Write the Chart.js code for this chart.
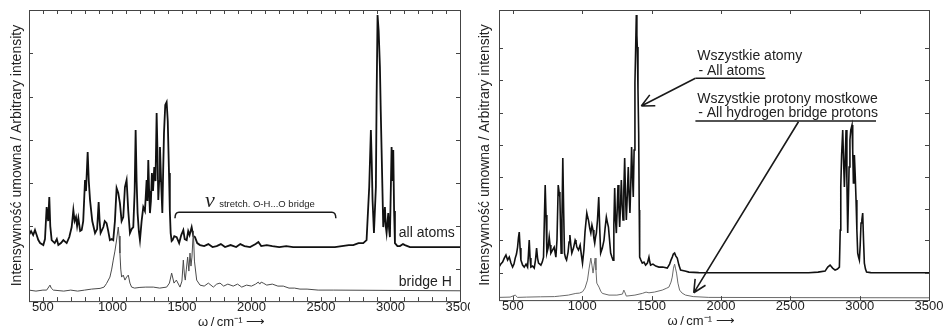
<!DOCTYPE html>
<html>
<head>
<meta charset="utf-8">
<script src="https://cdn.jsdelivr.net/npm/chart.js@4/dist/chart.umd.min.js"></script>
<style>
    body { margin: 0; background: #fff; overflow: hidden; }
    .panel { position: absolute; top: 0; }
    #left { left: 0; width: 470px; height: 331px; }
    #right { left: 476px; width: 470px; height: 330px; }
</style>
</head>
<body>
<div class="panel" id="left"><canvas id="chart-left" width="470" height="331"></canvas></div>
<div class="panel" id="right"><canvas id="chart-right" width="470" height="330"></canvas></div>
<script>
// x axis (wavenumber) labels
const xLabels = [500, 1000, 1500, 2000, 2500, 3000, 3500];

// y tick marks (arbitrary intensity, no labels)
const yTicksLeft = [31.7, 75, 118.3, 161, 204.3, 247.7];
const yTicksRight = [27.3, 60, 91.3, 123.3, 155, 187.3, 220, 251.7];

// left panel: all atoms
const leftAllAtoms = [
    [400, 66], [415, 70], [430, 66], [443, 71], [455, 66], [467, 61], [480, 58], [503, 56], [515, 62],
    [527, 94], [538, 80], [546, 104], [553, 75], [563, 61], [585, 58], [600, 62], [611, 56], [630, 58],
    [647, 61], [671, 58], [690, 64], [707, 74], [719, 91], [728, 80], [738, 84], [746, 75], [755, 83],
    [768, 70], [779, 71], [790, 80], [803, 121], [810, 110], [822, 149], [830, 120], [839, 101], [855, 80],
    [875, 68], [890, 72], [901, 99], [908, 80], [915, 68], [935, 74], [945, 80], [958, 78], [970, 70],
    [982, 61], [995, 62], [1006, 61], [1018, 80], [1030, 113], [1042, 108], [1054, 98], [1066, 80],
    [1078, 84], [1090, 114], [1102, 121], [1114, 90], [1126, 68], [1138, 72], [1150, 74], [1160, 110],
    [1167, 171], [1174, 120], [1181, 88], [1190, 70], [1198, 61], [1210, 80], [1222, 94], [1234, 90],
    [1246, 121], [1252, 100], [1258, 141], [1264, 110], [1270, 88], [1277, 100], [1284, 128], [1292, 110],
    [1301, 134], [1310, 120], [1318, 188], [1324, 150], [1330, 101], [1336, 120], [1342, 154], [1350, 120],
    [1359, 88], [1365, 130], [1371, 168], [1380, 196], [1390, 199], [1398, 180], [1407, 128], [1413, 90],
    [1419, 68], [1426, 60], [1433, 61], [1445, 65], [1462, 64], [1480, 58], [1495, 66], [1510, 71],
    [1520, 62], [1534, 61], [1545, 70], [1555, 66], [1570, 74], [1582, 65], [1594, 64], [1610, 58],
    [1630, 56], [1660, 55], [1690, 57], [1720, 54], [1750, 55], [1780, 57], [1810, 54], [1850, 56],
    [1890, 54], [1920, 57], [1950, 55], [1990, 54], [2030, 57], [2050, 59], [2070, 55], [2110, 56],
    [2150, 55], [2200, 54], [2250, 55], [2300, 54], [2400, 54], [2500, 54], [2600, 54], [2650, 55],
    [2700, 56], [2732, 56], [2770, 58], [2804, 58], [2828, 61], [2847, 114], [2859, 171], [2865, 140],
    [2871, 101], [2881, 68], [2895, 114], [2900, 200], [2907, 286], [2915, 270], [2924, 234], [2930, 190],
    [2936, 151], [2948, 74], [2960, 94], [2966, 75], [2972, 68], [2984, 88], [2990, 72], [2996, 64],
    [3008, 154], [3014, 120], [3020, 151], [3026, 90], [3032, 58], [3050, 55], [3068, 55], [3090, 57],
    [3104, 56], [3140, 54], [3500, 54]
];

// left panel: bridge H
const leftBridgeH = [
    [400, 11], [450, 10], [500, 11], [527, 11], [551, 16], [560, 13], [575, 11], [650, 10], [700, 11],
    [750, 10], [800, 11], [850, 12], [911, 12.7], [940, 14], [958, 17.7], [982, 24], [995, 32], [1006, 41],
    [1018, 50], [1030, 61], [1042, 74], [1048, 65], [1054, 48], [1060, 32], [1066, 24], [1078, 26],
    [1090, 21], [1102, 24], [1114, 26], [1126, 18], [1138, 14], [1160, 13], [1198, 13.7], [1240, 14],
    [1294, 14], [1340, 13], [1390, 14], [1410, 18], [1426, 28], [1443, 18], [1460, 21], [1486, 14],
    [1500, 20], [1510, 41], [1518, 26], [1524, 21], [1532, 32], [1541, 44], [1550, 30], [1558, 48],
    [1565, 35], [1572, 44], [1582, 70], [1590, 40], [1606, 21], [1630, 16], [1660, 15], [1690, 18],
    [1726, 14], [1750, 17], [1774, 18], [1800, 15], [1830, 17], [1869, 15], [1900, 17], [1930, 14],
    [1965, 16], [2000, 15], [2030, 17], [2049, 19], [2060, 17], [2070, 19], [2085, 18], [2110, 16],
    [2150, 17], [2190, 15], [2229, 15], [2270, 13], [2310, 13], [2349, 12], [2400, 12], [2480, 11],
    [2588, 11], [3500, 10.3]
];

// right panel: all atoms
const rightAllAtoms = [
    [400, 33], [413, 36], [426, 38], [438, 42], [450, 45], [462, 40], [474, 43], [486, 37], [498, 33],
    [508, 36], [517, 42], [526, 46], [534, 53], [540, 62], [546, 68], [552, 52], [558, 40], [570, 35],
    [582, 33], [595, 36], [606, 33], [612, 45], [618, 60], [624, 42], [630, 33], [642, 34], [654, 32],
    [663, 40], [671, 52], [678, 42], [685, 37], [694, 36], [702, 35], [712, 38], [721, 43], [727, 80],
    [733, 115], [739, 85], [745, 47], [754, 52], [762, 63], [768, 55], [774, 47], [786, 50], [798, 53],
    [804, 48], [810, 43], [818, 60], [827, 115], [833, 108], [839, 103], [844, 70], [848, 47], [854, 80],
    [860, 142], [866, 90], [872, 47], [880, 42], [887, 40], [898, 48], [905, 58], [911, 65], [918, 55],
    [925, 47], [937, 52], [949, 60], [955, 58], [961, 53], [973, 50], [985, 55], [994, 45], [1002, 37],
    [1012, 50], [1020, 68], [1033, 87], [1039, 83], [1045, 80], [1054, 72], [1062, 67], [1070, 75],
    [1078, 70], [1084, 62], [1090, 57], [1096, 63], [1102, 67], [1110, 80], [1119, 103], [1126, 72],
    [1133, 47], [1145, 52], [1157, 60], [1165, 72], [1174, 83], [1181, 78], [1189, 73], [1197, 60],
    [1205, 47], [1214, 43], [1222, 40], [1228, 75], [1234, 112], [1240, 80], [1246, 67], [1252, 90],
    [1258, 115], [1264, 92], [1270, 73], [1276, 95], [1282, 120], [1288, 95], [1294, 80], [1300, 110],
    [1306, 142], [1312, 105], [1318, 80], [1325, 105], [1332, 133], [1338, 105], [1344, 87], [1350, 115],
    [1356, 153], [1362, 125], [1368, 103], [1374, 150], [1380, 217], [1385, 250], [1390, 285], [1394, 265],
    [1397, 253], [1402, 210], [1407, 167], [1411, 90], [1414, 43], [1423, 40], [1433, 37], [1445, 38],
    [1457, 35], [1470, 37], [1481, 43], [1487, 38], [1493, 35], [1510, 36], [1530, 34], [1553, 33],
    [1580, 33], [1613, 32], [1630, 36], [1640, 40], [1649, 43], [1657, 46], [1666, 47], [1675, 44],
    [1685, 42], [1697, 35], [1709, 30], [1740, 29], [1769, 28], [1840, 27.5], [1913, 27.3], [2200, 27.3],
    [2500, 27.3], [2632, 27.3], [2700, 28], [2751, 29], [2770, 33], [2787, 35], [2805, 32], [2823, 30],
    [2840, 31], [2854, 33], [2860, 70], [2864, 113], [2870, 145], [2878, 170], [2884, 140], [2890, 113],
    [2896, 140], [2902, 170], [2908, 120], [2914, 67], [2919, 100], [2924, 133], [2930, 160], [2936, 170],
    [2945, 175], [2950, 150], [2955, 117], [2959, 130], [2962, 145], [2968, 125], [2974, 100], [2980, 70],
    [2986, 47], [2992, 43], [2998, 40], [3004, 55], [3010, 77], [3016, 80], [3022, 87], [3028, 60],
    [3034, 37], [3042, 31], [3050, 28], [3080, 27.5], [3111, 27.3], [3500, 27.3]
];

// right panel: hydrogen bridge protons
const rightBridge = [
    [400, 2.7], [480, 3], [517, 5], [534, 2.7], [600, 3], [700, 3.3], [800, 3.5], [834, 4], [900, 5],
    [954, 6.7], [980, 7], [1002, 8.3], [1020, 12], [1038, 20], [1050, 32], [1062, 42], [1070, 35],
    [1078, 27], [1086, 35], [1093, 42], [1099, 30], [1105, 17], [1121, 13], [1133, 9], [1145, 6.7],
    [1193, 5], [1250, 5], [1290, 6], [1300, 10], [1306, 8.3], [1318, 4], [1380, 5], [1433, 6.7],
    [1460, 8], [1481, 7.3], [1520, 8], [1577, 10], [1610, 12], [1625, 13], [1640, 18], [1649, 23],
    [1658, 32], [1666, 36], [1672, 32], [1680, 27], [1690, 17], [1702, 10], [1720, 7], [1745, 5],
    [1800, 3.5], [1913, 2.7], [2500, 2.5], [3500, 2.3]
];

// annotations, in data coordinates
const leftTexts = [
    { text: 'all atoms', x: 3060, y: 63.7, font: '14px "Liberation Sans"' },
    { text: 'bridge H', x: 3060, y: 15, font: '14px "Liberation Sans"' },
    { text: 'ν', x: 1665, y: 93.7, font: 'italic 22px "Liberation Serif"' },
    { text: 'stretch. O-H...O bridge', x: 1768, y: 94, font: '9.5px "Liberation Sans"' }
];
const leftBracket = { x1: 1450, x2: 2607, y: 88.7, yEnd: 82.7 };

const rightTexts = [
    { text: 'Wszystkie atomy', x: 1829, y: 240, font: '14px "Liberation Sans"' },
    { text: '- All atoms', x: 1838, y: 225, font: '14px "Liberation Sans"' },
    { text: 'Wszystkie protony mostkowe', x: 1829, y: 197.3, font: '14px "Liberation Sans"' },
    { text: '- All hydrogen bridge protons', x: 1836, y: 182.7, font: '14px "Liberation Sans"' }
];
const rightUnderlines = [
    { x1: 1816, x2: 2320, y: 221.7 },
    { x1: 1816, x2: 3118, y: 179 }
];
const rightArrows = [
    { x1: 1816, y1: 221.7, x2: 1426, y2: 194 },
    { x1: 2559, y1: 178.3, x2: 1804, y2: 7.3 }
];

const FONT = '"Liberation Sans", Arial, sans-serif';
const xTitle = 'ω\u2009/\u2009cm⁻¹ ⟶\u2003\u2003';
const yTitle = 'Intensywność umowna / Arbitrary intensity';

// frame with inward ticks on all four sides
const frameTicks = {
    id: 'frameTicks',
    afterDatasetsDraw(chart) {
        const { ctx, chartArea: a } = chart;
        const { x, y } = chart.scales;
        const len = 4;
        ctx.save();
        ctx.strokeStyle = '#444';
        ctx.lineWidth = 1;
        ctx.strokeRect(a.left + 0.5, a.top + 0.5, a.right - a.left, a.bottom - a.top);
        ctx.beginPath();
        x.ticks.forEach(t => {
            const px = Math.round(x.getPixelForValue(t.value)) + 0.5;
            ctx.moveTo(px, a.bottom); ctx.lineTo(px, a.bottom - len);
            ctx.moveTo(px, a.top); ctx.lineTo(px, a.top + len);
        });
        y.ticks.forEach(t => {
            const py = Math.round(y.getPixelForValue(t.value)) + 0.5;
            ctx.moveTo(a.left, py); ctx.lineTo(a.left + len, py);
            ctx.moveTo(a.right, py); ctx.lineTo(a.right - len, py);
        });
        ctx.stroke();
        ctx.restore();
    }
};

function notesPlugin(texts, underlines, arrows, bracket) {
    return {
        id: 'notes',
        afterDatasetsDraw(chart) {
            const ctx = chart.ctx;
            const { x, y } = chart.scales;
            ctx.save();
            ctx.fillStyle = '#222';
            ctx.strokeStyle = '#1a1a1a';
            ctx.textAlign = 'left';
            ctx.textBaseline = 'alphabetic';
            texts.forEach(t => {
                ctx.font = t.font;
                ctx.fillText(t.text, x.getPixelForValue(t.x), y.getPixelForValue(t.y));
            });

            ctx.lineWidth = 1.6;
            underlines.forEach(u => {
                const py = y.getPixelForValue(u.y);
                ctx.beginPath();
                ctx.moveTo(x.getPixelForValue(u.x1), py);
                ctx.lineTo(x.getPixelForValue(u.x2), py);
                ctx.stroke();
            });

            arrows.forEach(ar => {
                const sx = x.getPixelForValue(ar.x1), sy = y.getPixelForValue(ar.y1);
                const tx = x.getPixelForValue(ar.x2), ty = y.getPixelForValue(ar.y2);
                const ang = Math.atan2(ty - sy, tx - sx);
                ctx.beginPath();
                ctx.moveTo(sx, sy);
                ctx.lineTo(tx, ty);
                [0.45, -0.45].forEach(d => {
                    ctx.moveTo(tx, ty);
                    ctx.lineTo(tx - 14 * Math.cos(ang + d), ty - 14 * Math.sin(ang + d));
                });
                ctx.stroke();
            });

            if (bracket) {
                const x1 = x.getPixelForValue(bracket.x1), x2 = x.getPixelForValue(bracket.x2);
                const py = y.getPixelForValue(bracket.y), pe = y.getPixelForValue(bracket.yEnd);
                ctx.lineWidth = 1.5;
                ctx.beginPath();
                ctx.moveTo(x1, pe);
                ctx.quadraticCurveTo(x1, py, x1 + 4, py);
                ctx.lineTo(x2 - 4, py);
                ctx.quadraticCurveTo(x2, py, x2, pe);
                ctx.stroke();
            }
            ctx.restore();
        }
    };
}

function makeChart(id, cfg) {
    return new Chart(document.getElementById(id), {
        type: 'line',
        data: {
            datasets: cfg.series.map(s => ({
                data: s.points.map(p => ({ x: p[0], y: p[1] })),
                borderColor: s.color,
                borderWidth: s.width,
                pointRadius: 0,
                tension: 0,
                fill: false
            }))
        },
        options: {
            responsive: false,
            animation: false,
            devicePixelRatio: 1,
            layout: { padding: { top: 10, right: cfg.padRight, left: 0, bottom: 0 } },
            plugins: { legend: { display: false }, tooltip: { enabled: false } },
            scales: {
                x: {
                    type: 'linear',
                    min: 400,
                    max: 3500,
                    grid: { display: false, drawTicks: false },
                    border: { display: false },
                    ticks: {
                        stepSize: cfg.xStep,
                        autoSkip: false,
                        maxRotation: 0,
                        padding: 0,
                        color: '#222',
                        font: { family: FONT, size: 13, lineHeight: 1 },
                        callback: v => xLabels.includes(Math.round(v)) ? Math.round(v) : ''
                    },
                    afterBuildTicks: cfg.xTicks ? s => { s.ticks = cfg.xTicks.map(v => ({ value: v })); } : undefined,
                    afterFit: s => { s.paddingLeft = 0; s.paddingRight = 0; },
                    title: {
                        display: true,
                        text: xTitle,
                        color: '#222',
                        font: { family: FONT, size: 13, lineHeight: 1.3 },
                        padding: { top: 0, bottom: 0 }
                    }
                },
                y: {
                    min: 0,
                    max: cfg.yMax,
                    grid: { display: false, drawTicks: false },
                    border: { display: false },
                    ticks: { display: false },
                    afterBuildTicks: s => { s.ticks = cfg.yTicks.map(v => ({ value: v })); },
                    title: {
                        display: true,
                        text: yTitle,
                        color: '#222',
                        font: { family: FONT, size: 14 },
                        padding: cfg.yTitlePad
                    }
                }
            }
        },
        plugins: [frameTicks, cfg.notes]
    });
}

makeChart('chart-left', {
    series: [
        { points: leftBridgeH, color: '#4a4a4a', width: 1 },
        { points: leftAllAtoms, color: '#111', width: 1.8 }
    ],
    xStep: 100,
    yMax: 291,
    yTicks: yTicksLeft,
    padRight: 10,
    yTitlePad: { top: 8.6, bottom: 3.6 },
    notes: notesPlugin(leftTexts, [], [], leftBracket)
});

makeChart('chart-right', {
    series: [
        { points: rightBridge, color: '#6a6a6a', width: 1 },
        { points: rightAllAtoms, color: '#111', width: 1.6 }
    ],
    xTicks: xLabels,
    yMax: 290,
    yTicks: yTicksRight,
    padRight: 17,
    yTitlePad: { top: 1.1, bottom: 5.1 },
    notes: notesPlugin(rightTexts, rightUnderlines, rightArrows, null)
});
</script>
</body>
</html>
